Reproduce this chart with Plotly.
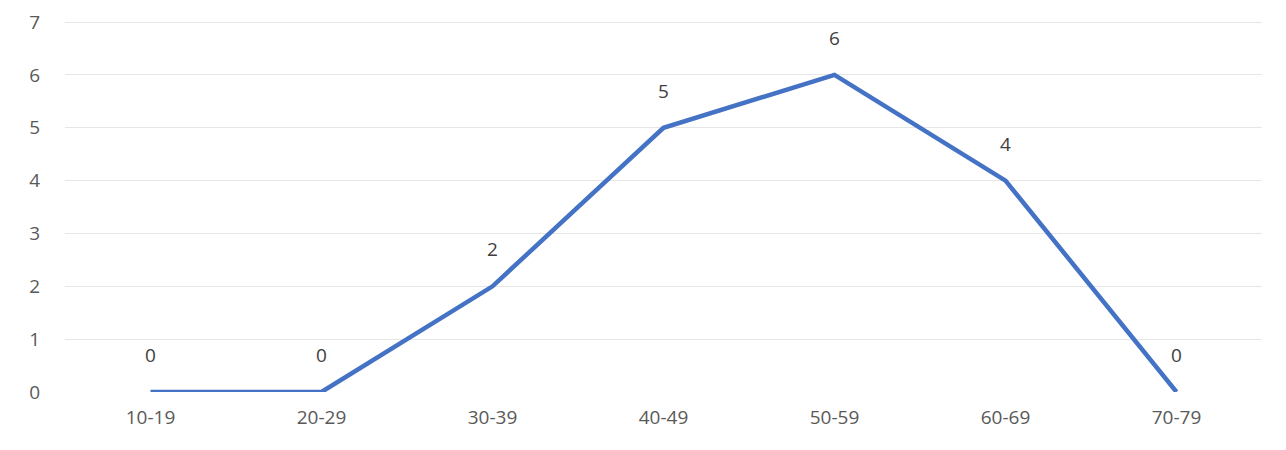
import plotly.graph_objects as go

categories = ["10-19", "20-29", "30-39", "40-49", "50-59", "60-69", "70-79"]
values = [0, 0, 2, 5, 6, 4, 0]
y_ticks = [0, 1, 2, 3, 4, 5, 6, 7]

FONT = "Open Sans, Liberation Sans, sans-serif"

fig = go.Figure()
fig.add_trace(go.Scatter(
    x=categories, y=values, mode="lines",
    line=dict(color="#4472C4", width=4.5),
    hoverinfo="skip", showlegend=False,
))

for c, v in zip(categories, values):
    fig.add_annotation(x=c, y=v, text=str(v), showarrow=False,
                       yanchor="middle", yshift=37,
                       font=dict(family=FONT, size=19, color="#404040"))

fig.update_layout(
    width=1286, height=450,
    margin=dict(l=57, r=32, t=13, b=66),
    paper_bgcolor="white", plot_bgcolor="white",
    font=dict(family=FONT, size=19, color="#595959"),
    xaxis=dict(type="category", range=[-0.5, 6.5], showgrid=False, zeroline=False,
               showline=False, ticks="", ticklabelstandoff=12, automargin=False,
               tickfont=dict(size=19, color="#595959")),
    yaxis=dict(range=[0, 7.02], tickvals=y_ticks, showgrid=True, gridcolor="#e6e6e6",
               gridwidth=1, zeroline=False, showline=False, ticks="", automargin=False,
               ticklabeloverflow="allow",
               ticklabelstandoff=24, tickfont=dict(size=19, color="#595959")),
)

fig.write_html("out.html")
